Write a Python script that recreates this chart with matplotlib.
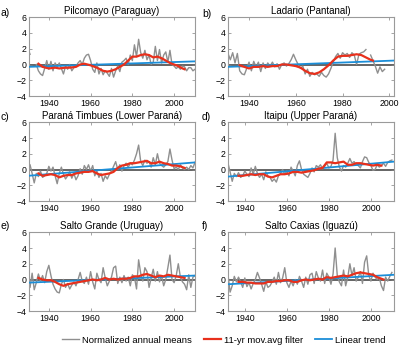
import numpy as np
import matplotlib
matplotlib.use('Agg')
import matplotlib.pyplot as plt

plt.rcParams['font.family'] = ['Liberation Sans', 'DejaVu Sans']

# Panel titles and x-limits
titles = ['Pilcomayo (Paraguay)', 'Ladario (Pantanal)',
          'Paraná Timbues (Lower Paraná)', 'Itaipu (Upper Paraná)',
          'Salto Grande (Uruguay)', 'Salto Caxias (Iguazú)']
letters = ['a)', 'b)', 'c)', 'd)', 'e)', 'f)']
xlims = [(1930.5, 2010), (1931, 2002), (1930.5, 2010),
         (1932, 2011), (1930.5, 2010), (1932, 2011)]

# Normalized annual means (start year + values, nan = missing)
start_a = 1930
annual_a = [2.0, 1.3, np.nan, np.nan, 0.0, -0.8, -1.2, -1.4, -0.5, 0.5,
            -0.6, 0.4, -0.8, 0.2, -0.3, 0.2, -0.5, -1.2, -0.2, -0.6,
            0.0, -0.8, -0.4, -0.2, 0.2, 0.5, 0.0, 0.8, 1.2, 1.3,
            0.5, -0.6, -1.0, 0.2, -1.2, -0.5, -1.3, -0.8, -1.1, -1.5,
            -0.5, -1.6, -0.8, -0.2, -0.9, 0.3, 0.5, 0.8, 0.0, 1.2,
            0.5, 2.5, 1.0, 3.2, 1.5, 0.8, 1.8, 0.6, 1.2, 0.0,
            0.3, 2.3, 0.5, 1.9, 0.2, 1.2, 1.6, 0.3, 1.8, 0.0,
            -0.2, -0.5, -0.3, -0.6, -0.2, -0.3, -0.8, -0.4, -0.4, -0.8, -0.6]
start_b = 1931
annual_b = [1.4, 0.6, 1.5, 0.2, 1.4, -0.8, -1.2, -1.3, -0.5,
            0.3, -0.8, 0.4, -0.3, 0.3, -0.9, 0.2, -0.5, 0.2, -0.2,
            0.3, -0.3, 0.1, -0.6, 0.0, 0.2, -0.2, 0.1, 0.6, 1.3,
            0.6, 0.0, -0.5, -0.2, -1.2, -0.6, -1.5, -1.0, -1.3, -1.2,
            -1.5, -1.0, -1.4, -1.6, -1.2, -0.5, 0.3, 1.0, 1.4, 0.8,
            1.5, 1.2, 1.4, 0.9, 1.5, 1.2, 0.0, 1.3, 1.5, 1.6,
            1.9, np.nan, 1.2, 0.5, -0.2, -1.1, -0.3, -0.9, -0.6]
start_c = 1930
annual_c = [0.8, 0.6, -0.5, -1.7, -0.5, -0.9, -0.2, -1.0, -0.8, -0.5,
            0.4, -0.2, 0.3, -0.8, -1.8, -0.5, 0.3, -0.6, -1.2, -0.8,
            -0.3, -1.1, -0.5, -1.3, -0.8, 0.1, -0.6, 0.5, 0.0, 0.6,
            -0.2, 0.5, -0.8, -0.2, -1.0, -0.5, -1.5, -0.8, -1.2, -0.6,
            -0.2, 0.4, 1.0, 0.0, 0.6, -0.2, 0.5, 0.8, 0.3, 0.8,
            0.6, 1.2, 2.0, 3.1, 1.0, 0.5, 1.2, 0.8, 1.0, 0.3,
            1.5, 0.6, 2.0, 0.8, 0.5, 0.3, 0.6, 1.0, 2.6, 1.2,
            0.1, 0.3, 0.0, 0.6, 0.2, 0.0, 0.3, 0.0, 0.5, 0.2, 0.9]
start_d = 1932
annual_d = [0.8, -0.3, -1.5, -0.5, -0.9, -0.4, -1.0, -0.8,
            -0.2, -0.6, -0.9, 0.2, -0.6, 0.4, -0.5, -1.0, -0.6, -1.3,
            -0.3, -0.8, -1.0, -1.5, -1.2, -1.6, -0.8, -0.5, 0.0, -0.6,
            -0.2, -0.8, 0.3, -0.2, -0.8, 0.5, 1.1, 0.0, -0.6, -0.8,
            -1.0, -0.5, 0.2, -0.3, 0.5, 0.3, 0.6, 0.1, 0.4, 0.8,
            0.2, 0.4, 1.2, 4.6, 1.5, 0.3, -0.2, 0.5, 0.3, 0.8,
            1.4, 0.8, 1.0, 0.6, 0.5, 0.2, 1.0, 1.6, 1.5, 0.9,
            0.5, -0.1, 0.0, 0.6, 0.3, 0.5, 0.8, 0.4, 0.9, 1.1, 1.2]
start_e = 1930
annual_e = [0.3, -1.0, 0.8, -1.3, -0.4, 0.7, -0.2, 0.5, -0.4, 1.0,
            1.8, 0.5, -0.6, -1.2, -1.6, -1.7, -0.6, 0.0, -1.0, -0.5,
            -1.2, -0.7, -0.3, -0.8, 0.0, 0.9, -0.2, -0.5, 0.3, -0.6,
            1.0, -0.3, -1.2, 0.8, 0.0, -0.4, 1.5, 0.2, -0.8, -0.2,
            0.3, 1.5, 1.7, -0.5, 0.3, -0.4, 0.5, -0.2, 0.3, -0.8,
            0.6, 0.3, -1.2, 2.5, 0.8, -0.2, 1.5, 1.0, -1.0, 0.2,
            1.3, -0.2, 1.0, -0.3, 0.5, -0.8, 0.0, 1.5, 3.1, 0.0,
            -0.4, 0.5, 2.0, 0.3, -0.3, -0.6, -1.3, 0.6, -1.0, 0.3, 0.5]
start_f = 1932
annual_f = [0.6, -1.6, -0.8, 0.4, -0.3, 0.3, -0.3, -1.0,
            0.2, -0.9, -0.4, -1.2, -0.5, 0.0, 0.9, 0.2, -0.6, -1.5,
            -0.3, -1.0, -0.8, -0.3, 0.3, -0.6, 0.9, -0.4, 0.2, 1.5,
            -0.4, -1.0, -0.2, -0.8, 0.0, -0.6, 0.4, -0.2, -1.0, 0.3,
            -0.6, 0.6, 0.8, -0.5, 1.0, 0.2, -0.2, 1.2, -0.5, 0.8,
            0.3, -0.6, 0.7, 4.0, 0.5, -0.3, -0.8, 1.2, -0.8, 0.3,
            2.0, 0.5, 1.5, -0.2, 0.3, 1.0, -0.5, 2.2, 3.0, 0.5,
            -0.2, 0.8, 0.3, 0.0, 0.2, -0.8, -1.4, 0.3, -0.2, 0.4, 0.9]

# 11-yr moving average filter
filt_years_a = [1935, 1937, 1940, 1943, 1945, 1948, 1950, 1953, 1955, 1957, 1960, 1963,
                1966, 1968, 1970, 1972, 1974, 1976, 1978, 1980, 1982, 1984, 1986,
                1988, 1990, 1992, 1994, 1996, 1998, 2000, 2002, 2004, 2005]
filt_a = [0.1, -0.3, -0.5, -0.4, -0.5, -0.4, -0.4, -0.3, 0.0, 0.1, -0.1, -0.4,
          -0.8, -0.9, -0.8, -0.6, -0.3, 0.0, 0.5, 1.0, 1.0, 1.2, 1.3,
          1.2, 0.9, 1.0, 0.8, 0.5, 0.2, 0.0, -0.2, -0.5, -0.6]
filt_years_b = list(range(1936, 1993, 2)) + [1993]
filt_b = [-0.1, -0.3, -0.5, -0.3, -0.3, -0.2, -0.3, -0.2, -0.2, 0.0, 0.0, -0.1,
          -0.2, -0.4, -0.8, -1.1, -1.2, -1.0, -0.6, -0.1, 0.5, 1.0, 1.1, 1.1,
          1.2, 1.3, 1.2, 0.9, 0.6, 0.5]
filt_years_c = list(range(1935, 2006, 2))
filt_c = [-0.5, -0.8, -0.7, -0.6, -0.7, -1.0, -0.8, -0.7, -0.7, -0.5, -0.4, -0.3,
          -0.3, -0.2, -0.5, -0.7, -0.6, -0.5, -0.3, 0.2, 0.5, 0.6, 0.8, 0.8,
          0.9, 1.0, 1.1, 0.8, 0.8, 1.0, 0.8, 0.7, 0.5, 0.5, 0.4, 0.2]
filt_years_d = list(range(1937, 2006, 2))
filt_d = [-0.8, -0.8, -0.7, -0.6, -0.7, -0.6, -0.6, -0.9, -1.0, -0.8, -0.6, -0.6,
          -0.5, -0.3, -0.3, -0.4, -0.3, -0.2, -0.1, 0.1, 0.2, 0.9, 0.9, 0.8,
          0.9, 1.0, 0.6, 0.6, 0.8, 0.8, 0.7, 0.6, 0.5, 0.6, 0.5]
filt_years_e = list(range(1935, 2006, 2))
filt_e = [0.2, 0.0, -0.1, -0.1, -0.3, -0.6, -0.8, -0.6, -0.5, -0.4, -0.3, -0.2,
          -0.1, 0.0, -0.1, 0.0, 0.2, 0.0, 0.1, 0.0, 0.1, 0.1, 0.2, 0.4,
          0.4, 0.6, 0.7, 0.5, 0.3, 0.5, 0.4, 0.6, 0.5, 0.4, 0.3, 0.2]
filt_years_f = list(range(1937, 2006, 2)) + [2006]
filt_f = [-0.3, -0.3, -0.4, -0.4, -0.5, -0.5, -0.5, -0.3, -0.3, -0.2, -0.2, -0.1,
          -0.1, -0.3, -0.3, -0.1, 0.0, -0.1, 0.0, 0.1, 0.0, 0.3, 0.2, 0.3,
          0.4, 0.5, 0.4, 0.6, 0.8, 0.9, 0.8, 0.7, 0.6, 0.3, 0.1, 0.0]

# Linear trend end points (year, value)
trend_years = [(1930, 2010), (1931, 2002), (1930, 2010),
               (1932, 2011), (1930, 2010), (1932, 2011)]
trend_vals = [(-0.3, 0.4), (-0.3, 0.5), (-0.8, 0.9),
              (-0.9, 1.0), (-0.4, 0.5), (-0.6, 0.6)]

starts = [start_a, start_b, start_c, start_d, start_e, start_f]
annuals = [annual_a, annual_b, annual_c, annual_d, annual_e, annual_f]
filt_years = [filt_years_a, filt_years_b, filt_years_c, filt_years_d, filt_years_e, filt_years_f]
filts = [filt_a, filt_b, filt_c, filt_d, filt_e, filt_f]

gray = '#8f8f8f'
red = '#e8301c'
blue = '#1b8ed8'

fig = plt.figure(figsize=(4.0, 3.47), dpi=100)
lefts = [0.0725, 0.57]
bottoms = [0.7233, 0.4207, 0.1037]
w, h = 0.415, 0.227
label_pos = [(0.002, 0.955), (0.505, 0.95), (0.002, 0.655), (0.505, 0.655),
             (0.002, 0.34), (0.505, 0.34)]

for i in range(6):
    ax = fig.add_axes([lefts[i % 2], bottoms[i // 2], w, h])
    yrs = np.arange(starts[i], starts[i] + len(annuals[i]))
    ax.axhline(0, color='#3a3a3a', lw=1.1, zorder=1)
    l1, = ax.plot(yrs, annuals[i], color=gray, lw=1.0, zorder=2,
                  label='Normalized annual means')
    l3, = ax.plot(trend_years[i], trend_vals[i], color=blue, lw=1.3, zorder=3,
                  label='Linear trend')
    l2, = ax.plot(filt_years[i], filts[i], color=red, lw=1.6, zorder=4,
                  label='11-yr mov.avg filter')
    ax.set_xlim(xlims[i])
    ax.set_ylim(-4, 6)
    ax.set_yticks([-4, -2, 0, 2, 4, 6])
    ax.set_xticks([1940, 1960, 1980, 2000])
    ax.tick_params(direction='in', length=2, width=0.5, labelsize=6.3, pad=2,
                   top=True, right=True, color='#808080')
    for s in ax.spines.values():
        s.set_color('#9a9a9a')
        s.set_linewidth(0.8)
    ax.set_title(titles[i], fontsize=7, pad=2.5)
    fig.text(label_pos[i][0], label_pos[i][1], letters[i], fontsize=7.5)

fig.legend([l1, l2, l3], ['Normalized annual means', '11-yr mov.avg filter', 'Linear trend'],
           loc='center', bbox_to_anchor=(0.56, 0.02), ncol=3, frameon=False,
           fontsize=6.8, handlelength=1.8, handletextpad=0.3, columnspacing=1.3)

fig.savefig('out.png', dpi=100)
